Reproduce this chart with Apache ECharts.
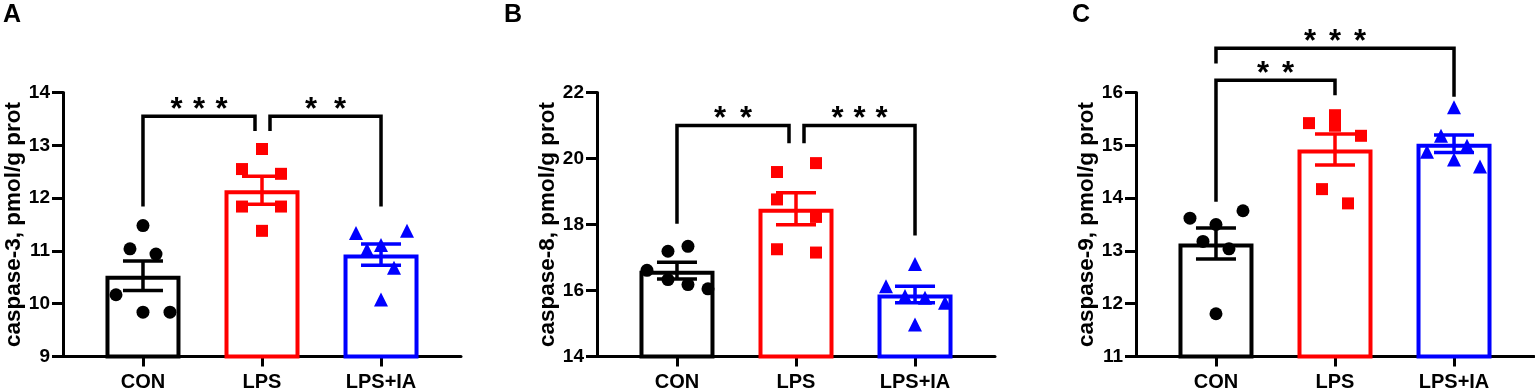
<!DOCTYPE html>
<html><head><meta charset="utf-8">
<script src="https://cdn.jsdelivr.net/npm/echarts@6/dist/echarts.min.js"></script>
<style>html,body{margin:0;padding:0;background:#fff}#c{width:1535px;height:390px}</style>
</head><body><div id="c"></div>
<script>
// ---------- data ----------
const categories = ['CON', 'LPS', 'LPS+IA'];
const panelLetters = ['A', 'B', 'C'];
const yTitles = ['caspase-3, pmol/g prot', 'caspase-8, pmol/g prot', 'caspase-9, pmol/g prot'];
const yMins = [9, 14, 11];
const yMaxs = [14, 22, 16];
const ySteps = [1, 2, 1];

// Panel A: caspase-3
const pointsA_CON = [11.48, 11.04, 10.94, 10.17, 9.84, 9.84];
const pointsA_LPS = [12.93, 12.55, 12.46, 11.84, 11.84, 11.38];
const pointsA_IA  = [11.34, 11.38, 11.11, 11.02, 10.68, 10.08];
const meansA = [10.53, 12.15, 10.93];
const semsA  = [0.28, 0.265, 0.20];
// [fromCategory, toCategory, yTop, yFromEnd, yToEnd]
const bracketsA = [[0, 1, 13.55, 11.84, 13.27], [1, 2, 13.55, 13.27, 11.84]];
const bracketLabelsA = ['***', '**'];

// Panel B: caspase-8
const pointsB_CON = [16.61, 17.19, 17.34, 16.33, 16.18, 16.05];
const pointsB_LPS = [19.59, 19.86, 18.76, 18.23, 17.25, 17.15];
const pointsB_IA  = [16.80, 16.13, 15.83, 15.78, 15.63, 14.97];
const meansB = [16.60, 18.48, 15.88];
const semsB  = [0.255, 0.485, 0.25];
const bracketsB = [[0, 1, 21.0, 18.02, 20.46], [1, 2, 21.0, 20.46, 17.67]];
const bracketLabelsB = ['**', '***'];

// Panel C: caspase-9
const pointsC_CON = [13.62, 13.76, 13.50, 13.18, 13.04, 11.81];
const pointsC_LPS = [15.42, 15.57, 15.37, 15.18, 14.17, 13.90];
const pointsC_IA  = [15.72, 15.18, 14.99, 14.88, 14.73, 14.60];
const meansC = [13.14, 14.92, 15.03];
const semsC  = [0.295, 0.295, 0.165];
const bracketsC = [[0, 2, 16.84, 16.55, 15.92], [0, 1, 16.23, 13.93, 15.95]];
const bracketLabelsC = ['***', '**'];

// ---------- styles ----------
const FONT = '"Liberation Sans", Arial, sans-serif';
const groupColors = ['#000000', '#ff0000', '#0000ff'];
const groupSymbols = ['circle', 'rect', 'triangle'];
const groupSymbolSizes = [13, 12, 14];
// horizontal jitter of the dots (pixels), per panel / group
const jitterPx = [
  [[0, -13, 13, -27, 0, 27], [0, -20, 19, -20, 19, 0], [-25, 26, 0, -14, 13, 0]],
  [[-30, -9, 11, -9, 11, 31], [-19, 20, -19, 20, -19, 20], [0, -29, -10, 10, 30, 0]],
  [[-26, 27, 0, -13, 13, 0], [-26, 0, 0, 26, -13, 13], [0, -13, 13, -27, 0, 26]]
];
// pixel shift of the bracket legs so that two brackets meeting at one bar do not overlap
const legShift = [
  [[0, -7], [8, 0]],
  [[0, -7], [8, 0]],
  [[0, 0], [0, 0]]
];
// spacing between asterisks (pixels)
const starGap = [[22.5, 29], [26, 22], [25, 25]];
const gridLefts = [63, 597, 1136];
const titleLefts = [-2, 499, 1067];

const panels = [
  {points: [pointsA_CON, pointsA_LPS, pointsA_IA], means: meansA, sems: semsA, brackets: bracketsA, labels: bracketLabelsA},
  {points: [pointsB_CON, pointsB_LPS, pointsB_IA], means: meansB, sems: semsB, brackets: bracketsB, labels: bracketLabelsB},
  {points: [pointsC_CON, pointsC_LPS, pointsC_IA], means: meansC, sems: semsC, brackets: bracketsC, labels: bracketLabelsC}
];

const grids = [], xAxes = [], yAxes = [], series = [], titles = [];

panels.forEach((p, k) => {
  grids.push({left: gridLefts[k], top: 92.5, width: 398, height: 264, outerBoundsMode: 'none'});
  titles.push({text: panelLetters[k], left: titleLefts[k], top: -2,
    textStyle: {fontFamily: FONT, fontSize: 25, fontWeight: 'bold', color: '#000'}});
  xAxes.push({
    gridIndex: k, type: 'value', min: -0.672, max: 2.672,
    splitLine: {show: false},
    axisLine: {show: true, onZero: false, lineStyle: {color: '#000', width: 3}},
    axisTick: {show: true, customValues: [0, 1, 2], length: 10, inside: false, lineStyle: {color: '#000', width: 3}},
    axisLabel: {customValues: [0, 1, 2], formatter: v => categories[Math.round(v)] || '',
      margin: 16, fontFamily: FONT, fontSize: 20, fontWeight: 'bold', color: '#000'}
  });
  yAxes.push({
    gridIndex: k, type: 'value', min: yMins[k], max: yMaxs[k], interval: ySteps[k],
    splitLine: {show: false},
    axisLine: {show: true, onZero: false, lineStyle: {color: '#000', width: 3}},
    axisTick: {show: true, length: 11, lineStyle: {color: '#000', width: 3}},
    axisLabel: {margin: 13, fontFamily: FONT, fontSize: 19, fontWeight: 'bold', color: '#000'},
    name: yTitles[k], nameLocation: 'middle', nameGap: 37,
    nameTextStyle: {fontFamily: FONT, fontSize: 22.5, fontWeight: 'bold', color: '#000'}
  });
  // bars
  series.push({
    type: 'bar', xAxisIndex: k, yAxisIndex: k, barWidth: 75, z: 2,
    data: p.means.map((m, i) => ({value: [i, m], itemStyle: {color: '#ffffff', borderColor: groupColors[i], borderWidth: 4}})),
    silent: true
  });
  // dots
  p.points.forEach((arr, i) => {
    series.push({
      type: 'scatter', xAxisIndex: k, yAxisIndex: k, z: 3,
      symbol: groupSymbols[i], symbolSize: groupSymbolSizes[i],
      itemStyle: {color: groupColors[i], opacity: 1},
      data: arr.map((v, j) => ({value: [i, v], symbolOffset: [jitterPx[k][i][j], 0]})),
      silent: true
    });
  });
  // error bars (mean ± SEM)
  series.push({
    type: 'custom', xAxisIndex: k, yAxisIndex: k, z: 4, silent: true,
    data: p.means.map((m, i) => [i, m - p.sems[i], m + p.sems[i]]),
    renderItem: (params, api) => {
      const i = api.value(0);
      const lo = api.coord([i, api.value(1)]);
      const hi = api.coord([i, api.value(2)]);
      const c = groupColors[params.dataIndex];
      const hw = 20;
      const st = {stroke: c, lineWidth: 3.5, fill: null};
      return {type: 'group', children: [
        {type: 'line', shape: {x1: lo[0], y1: lo[1], x2: hi[0], y2: hi[1]}, style: st},
        {type: 'line', shape: {x1: lo[0] - hw, y1: lo[1], x2: lo[0] + hw, y2: lo[1]}, style: st},
        {type: 'line', shape: {x1: hi[0] - hw, y1: hi[1], x2: hi[0] + hw, y2: hi[1]}, style: st}
      ]};
    }
  });
  // significance brackets
  series.push({
    type: 'custom', xAxisIndex: k, yAxisIndex: k, z: 5, silent: true, clip: false,
    data: p.brackets,
    renderItem: (params, api) => {
      const d = params.dataIndex;
      const sh = legShift[k][d];
      const a = api.coord([api.value(0), api.value(3)]);
      const t1 = api.coord([api.value(0), api.value(2)]);
      const b = api.coord([api.value(1), api.value(4)]);
      const xl = a[0] + sh[0], xr = b[0] + sh[1], yt = t1[1];
      const n = p.labels[d].length, gap = starGap[k][d];
      const children = [
        {type: 'polyline', shape: {points: [[xl, a[1]], [xl, yt], [xr, yt], [xr, b[1]]]},
          style: {stroke: '#000', lineWidth: 3.5, fill: null, lineJoin: 'miter'}}
      ];
      const cx = (xl + xr) / 2;
      for (let s = 0; s < n; s++) {
        children.push({type: 'text', style: {text: '*', x: cx + (s - (n - 1) / 2) * gap, y: yt + 9.5,
          align: 'center', verticalAlign: 'bottom', font: 'bold 31px ' + FONT, fill: '#000'}});
      }
      return {type: 'group', children};
    }
  });
});

const chart = echarts.init(document.getElementById('c'), null, {renderer: 'canvas'});
chart.setOption({
  animation: false,
  backgroundColor: '#ffffff',
  textStyle: {fontFamily: FONT},
  title: titles,
  grid: grids,
  xAxis: xAxes,
  yAxis: yAxes,
  series: series
});
</script>
</body></html>
